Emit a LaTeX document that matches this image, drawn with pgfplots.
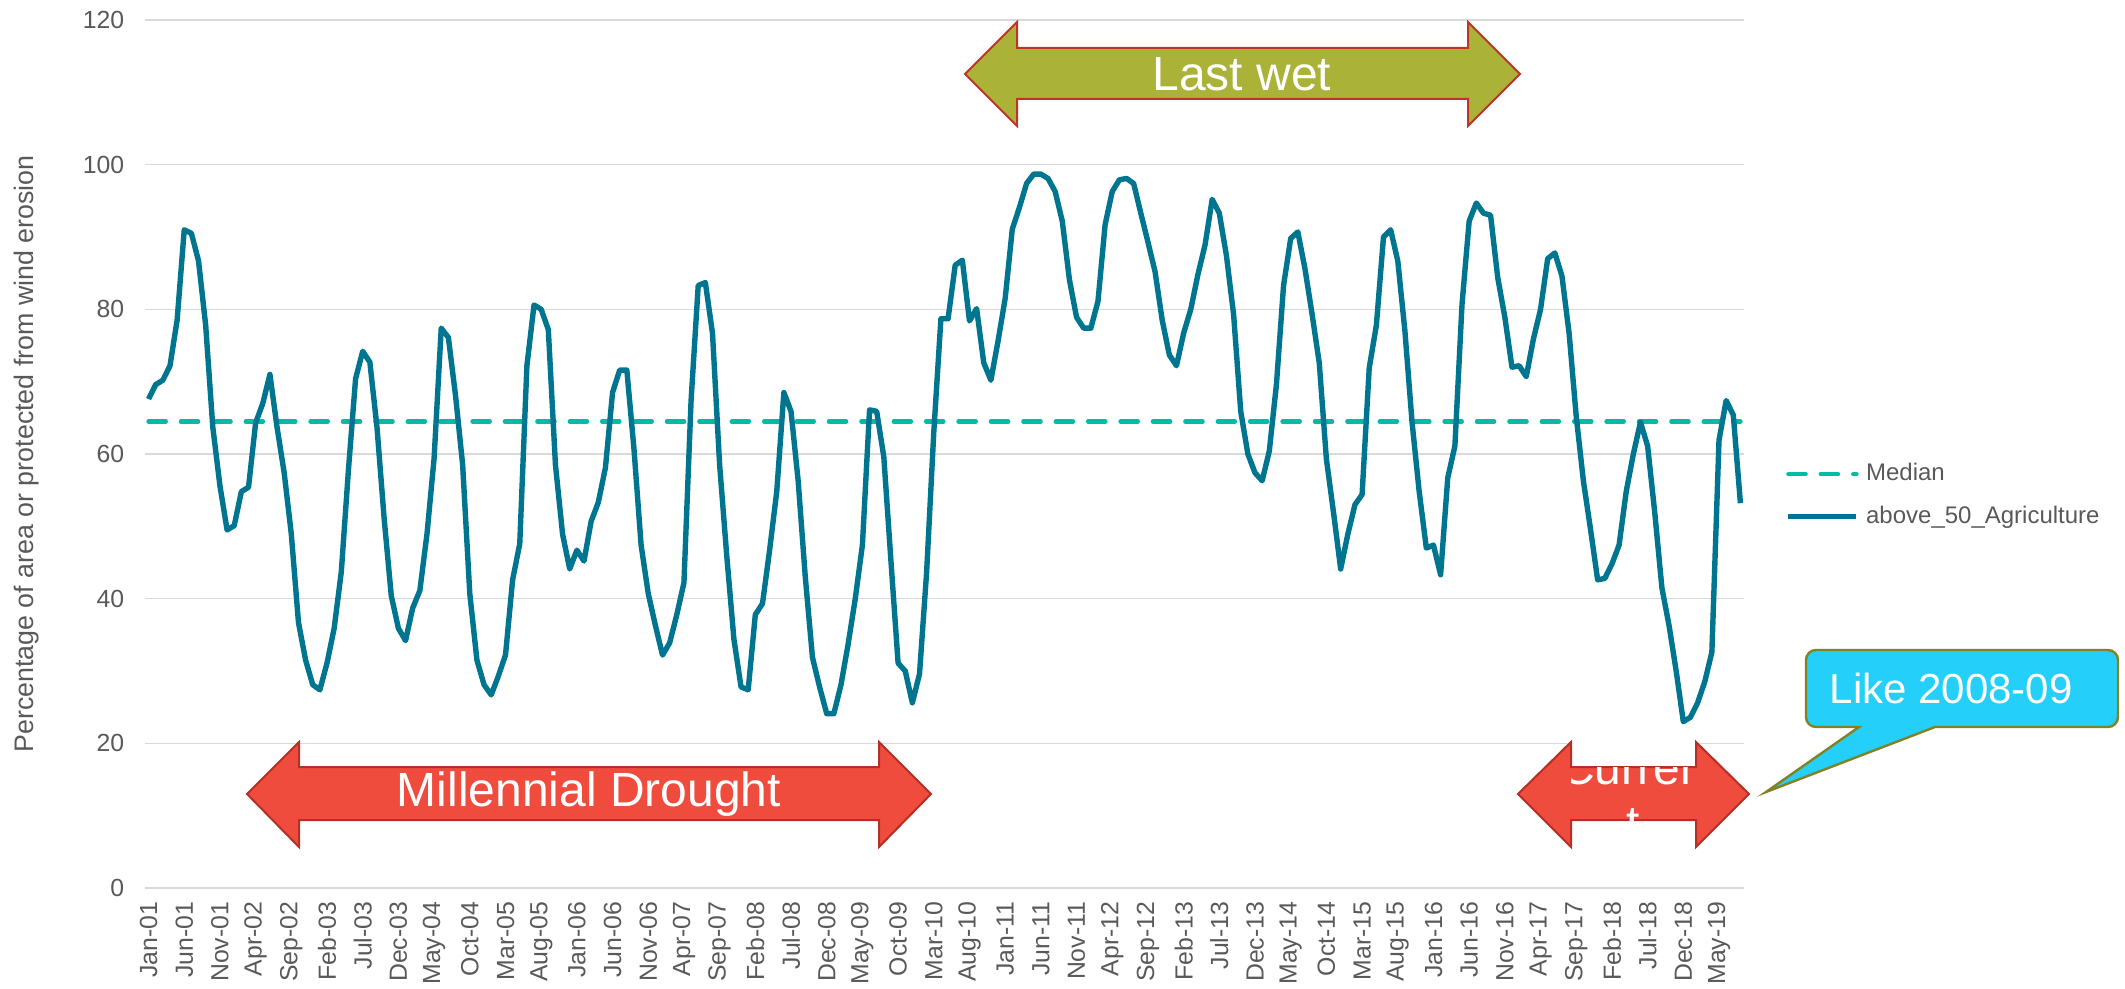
\documentclass[border=0pt]{standalone}
\usepackage{fontspec}
\setmainfont{Liberation Sans}
\usepackage{pgfplots}
\pgfplotsset{compat=1.18}

\definecolor{linecol}{RGB}{0,117,143}
\definecolor{medcol}{RGB}{0,188,164}
\definecolor{gridgray}{RGB}{217,217,217}
\definecolor{txtgray}{RGB}{89,89,89}
\definecolor{drred}{RGB}{239,76,61}
\definecolor{drline}{RGB}{178,48,38}
\definecolor{wetfill}{RGB}{170,178,56}
\definecolor{wetline}{RGB}{190,52,40}
\definecolor{callfill}{RGB}{36,208,250}
\definecolor{callline}{RGB}{130,130,36}

\begin{document}
% 1 unit = 1 px of the 2125x988 reference
\begin{tikzpicture}[x=0.25pt,y=0.25pt]
\useasboundingbox (0,0) rectangle (2125,988);

\begin{axis}[
    at={(36.25pt,25pt)}, anchor=south west,
    width=399.75pt, height=217pt, scale only axis,
    xmin=-0.5, xmax=223.5,
    ymin=0, ymax=120,
    ytick={0,20,...,120},
    xtick={0,5,...,220},
    xticklabels={Jan-01,Jun-01,Nov-01,Apr-02,Sep-02,Feb-03,Jul-03,Dec-03,May-04,Oct-04,
      Mar-05,Aug-05,Jan-06,Jun-06,Nov-06,Apr-07,Sep-07,Feb-08,Jul-08,Dec-08,
      May-09,Oct-09,Mar-10,Aug-10,Jan-11,Jun-11,Nov-11,Apr-12,Sep-12,Feb-13,
      Jul-13,Dec-13,May-14,Oct-14,Mar-15,Aug-15,Jan-16,Jun-16,Nov-16,Apr-17,
      Sep-17,Feb-18,Jul-18,Dec-18,May-19},
    ymajorgrids=true,
    grid style={draw=gridgray, line width=0.4pt},
    axis line style={draw=none},
    major tick length=0pt,
    /pgf/number format/assume math mode=true,
    tick label style={font=\fontsize{6.2}{7}\selectfont, text=txtgray},
    yticklabel style={anchor=east, inner xsep=5pt, inner ysep=0pt},
    xticklabel style={rotate=90, anchor=east, inner xsep=3.25pt, inner ysep=0pt},
    ylabel={Percentage of area or protected from wind erosion},
    ylabel style={at={(axis description cs:-0.0738,0.5)}, anchor=center,
      font=\fontsize{6.7}{8}\selectfont, text=txtgray},
    legend style={at={(axis description cs:1.0256,0.4522)}, anchor=west,
      draw=none, fill=none, inner sep=0pt, row sep=5pt, column sep=1.75pt,
      font=\fontsize{6}{7}\selectfont, text=txtgray,
      nodes={inner sep=0pt, text height=4.4pt, text depth=1.2pt}},
    legend cell align=left,
    legend image code/.code={\draw[#1] (0pt,0pt) -- (17pt,0pt);},
]

\addplot[medcol, line width=1.1pt, line cap=round, dash pattern=on 4.3pt off 3.8pt]
  coordinates {(0,64.5) (223,64.5)};
\addlegendentry{Median}

\addplot[linecol, line width=1.35pt, line join=round, mark=none] coordinates {
(0,67.6) (1,69.6) (2,70.2) (3,72.2) (4,78.5) (5,91.0) (6,90.5) (7,86.7) (8,77.8) (9,63.7) (10,55.6) (11,49.5)
(12,50.1) (13,54.8) (14,55.4) (15,64.3) (16,67.0) (17,71.0) (18,63.7) (19,57.4) (20,48.9) (21,36.7) (22,31.5) (23,28.1)
(24,27.4) (25,31.1) (26,35.9) (27,43.7) (28,57.8) (29,70.4) (30,74.2) (31,72.7) (32,63.7) (33,51.1) (34,40.4) (35,35.9)
(36,34.2) (37,38.7) (38,41.1) (39,48.9) (40,59.4) (41,77.4) (42,76.1) (43,68.1) (44,58.5) (45,40.7) (46,31.5) (47,28.1)
(48,26.7) (49,29.3) (50,32.2) (51,42.6) (52,47.6) (53,72.2) (54,80.6) (55,80.0) (56,77.2) (57,58.5) (58,48.9) (59,44.1)
(60,46.7) (61,45.2) (62,50.7) (63,53.3) (64,58.1) (65,68.5) (66,71.6) (67,71.6) (68,60.7) (69,47.4) (70,40.7) (71,36.3)
(72,32.2) (73,33.9) (74,37.8) (75,42.2) (76,67.4) (77,83.3) (78,83.7) (79,76.7) (80,58.5) (81,45.9) (82,34.4) (83,27.8)
(84,27.4) (85,37.8) (86,39.3) (87,46.7) (88,54.8) (89,68.5) (90,65.9) (91,56.3) (92,43.0) (93,31.9) (94,27.8) (95,24.1)
(96,24.1) (97,28.1) (98,33.7) (99,40.0) (100,47.4) (101,66.1) (102,65.9) (103,59.6) (104,45.2) (105,31.1) (106,30.0) (107,25.6)
(108,29.6) (109,43.7) (110,63.0) (111,78.7) (112,78.7) (113,86.1) (114,86.8) (115,78.4) (116,80.1) (117,72.6) (118,70.2) (119,75.6)
(120,81.5) (121,91.1) (122,94.1) (123,97.4) (124,98.7) (125,98.7) (126,98.1) (127,96.3) (128,92.2) (129,84.1) (130,78.9) (131,77.4)
(132,77.4) (133,81.1) (134,91.7) (135,96.3) (136,97.9) (137,98.1) (138,97.4) (139,93.3) (140,89.3) (141,85.2) (142,78.5) (143,73.7)
(144,72.2) (145,76.7) (146,80.0) (147,84.8) (148,88.9) (149,95.2) (150,93.3) (151,87.4) (152,79.3) (153,65.9) (154,60.0) (155,57.4)
(156,56.3) (157,60.4) (158,69.6) (159,83.3) (160,89.8) (161,90.7) (162,85.6) (163,79.3) (164,72.6) (165,59.3) (166,51.9) (167,44.1)
(168,48.9) (169,53.0) (170,54.4) (171,71.9) (172,77.8) (173,90.0) (174,91.0) (175,86.7) (176,77.0) (177,64.4) (178,54.8) (179,47.0)
(180,47.4) (181,43.3) (182,56.7) (183,61.1) (184,80.7) (185,92.2) (186,94.7) (187,93.3) (188,93.0) (189,84.4) (190,78.9) (191,72.0)
(192,72.2) (193,70.7) (194,75.9) (195,80.0) (196,87.0) (197,87.8) (198,84.6) (199,76.7) (200,65.2) (201,56.3) (202,49.6) (203,42.6)
(204,42.8) (205,44.8) (206,47.4) (207,54.8) (208,60.0) (209,64.4) (210,61.1) (211,51.9) (212,41.5) (213,36.3) (214,30.0) (215,23.0)
(216,23.6) (217,25.6) (218,28.5) (219,32.6) (220,61.9) (221,67.4) (222,65.4) (223,53.2)
};
\addlegendentry{above\_50\_Agriculture}
\end{axis}

% Last wet arrow
\draw[fill=wetfill, draw=wetline, line width=0.5pt, line join=miter]
  (965,914) -- (1017,966) -- (1017,940) -- (1468,940) -- (1468,966) -- (1520,914)
  -- (1468,862) -- (1468,889) -- (1017,889) -- (1017,862) -- cycle;
\node[text=white, font=\fontsize{12}{14}\selectfont, inner sep=0pt] at (1242,914) {Last wet};

% Millennial Drought arrow
\draw[fill=drred, draw=drline, line width=0.5pt, line join=miter]
  (247,194) -- (299,246) -- (299,221) -- (879,221) -- (879,246) -- (931,194)
  -- (879,141) -- (879,168) -- (299,168) -- (299,141) -- cycle;
\node[text=white, font=\fontsize{12}{14}\selectfont, inner sep=0pt] at (589,194) {Millennial Drought};

% Current arrow
\fill[white] (1571,250) rectangle (1696,221);
\draw[fill=drred, draw=drline, line width=0.5pt, line join=miter]
  (1518,194) -- (1571,246) -- (1571,221) -- (1696,221) -- (1696,246) -- (1749,194)
  -- (1696,141) -- (1696,168) -- (1571,168) -- (1571,141) -- cycle;
\begin{scope}
  \clip (1571,168) rectangle (1696,221);
  \node[text=white, font=\fontsize{12}{14}\selectfont, inner sep=0pt, anchor=base] at (1633.5,204) {Curren};
  \node[text=white, font=\fontsize{12}{14}\selectfont, inner sep=0pt, anchor=base] at (1633.5,149) {t};
\end{scope}

% Callout
\draw[fill=callfill, draw=callline, line width=0.6pt]
  (1806,300) [rounded corners=2.5pt] -- (1806,338) -- (2118,338) -- (2118,261)
  [sharp corners] -- (1935,261) -- (1766,196) -- (1859,261)
  [rounded corners=2.5pt] -- (1806,261) -- cycle;
\node[text=white, font=\fontsize{10.5}{12}\selectfont, inner sep=0pt, anchor=base west] at (1829,284) {Like 2008-09};

\end{tikzpicture}
\end{document}
